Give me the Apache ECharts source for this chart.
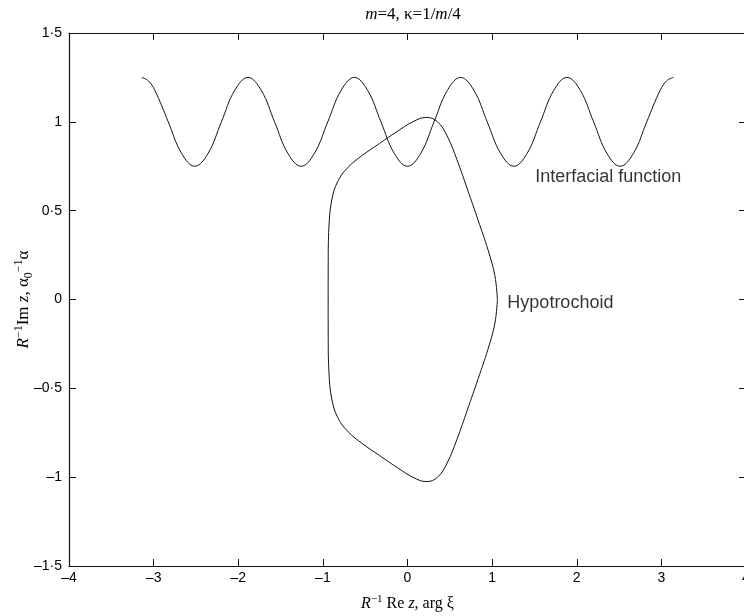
<!DOCTYPE html>
<html>
<head>
<meta charset="utf-8">
<script src="https://cdn.jsdelivr.net/npm/echarts@6/dist/echarts.min.js"></script>
<style>
  html, body { margin: 0; padding: 0; background: #fff; }
  #chart { width: 744px; height: 616px; }
</style>
</head>
<body>
<div id="chart"></div>
<script>
// interfacial function
const interfacialX = [-3.142, -3.063, -2.985, -2.827, -2.670, -2.513, -2.356, -2.199, -2.042,
  -1.885, -1.728, -1.571, -1.414, -1.257, -1.100, -0.942, -0.785,
  -0.628, -0.471, -0.314, -0.157, 0, 0.157, 0.314, 0.471,
  0.628, 0.785, 0.942, 1.100, 1.257, 1.414, 1.571, 1.728,
  1.885, 2.042, 2.199, 2.356, 2.513, 2.670, 2.827, 2.985, 3.063, 3.142];
const interfacialY = [1.25, 1.231, 1.177, 1, 0.823, 0.75, 0.823, 1, 1.177,
  1.25, 1.177, 1, 0.823, 0.75, 0.823, 1, 1.177,
  1.25, 1.177, 1, 0.823, 0.75, 0.823, 1, 1.177,
  1.25, 1.177, 1, 0.823, 0.75, 0.823, 1, 1.177,
  1.25, 1.177, 1, 0.823, 0.75, 0.823, 1, 1.177, 1.231, 1.25];

// hypotrochoid outline
const hypoX = [1.0625, 1.0327, 0.9506, 0.8347, 0.7073, 0.5841, 0.4687, 0.3529, 0.2215,
  0.0625, -0.1257, -0.3311, -0.5313, -0.7015, -0.8247, -0.8973, -0.9288, -0.9369,
  -0.9375, -0.9369, -0.9288, -0.8973, -0.8247, -0.7015, -0.5313, -0.3311, -0.1257,
  0.0625, 0.2215, 0.3529, 0.4687, 0.5841, 0.7073, 0.8347, 0.9506, 1.0327, 1.0625];
const hypoY = [0, 0.1334, 0.2804, 0.4459, 0.6214, 0.7874, 0.9201, 1.0013, 1.0250,
  1.0000, 0.9446, 0.8781, 0.8119, 0.7446, 0.6642, 0.5541, 0.4036, 0.2138,
  0, -0.2138, -0.4036, -0.5541, -0.6642, -0.7446, -0.8119, -0.8781, -0.9446,
  -1.0000, -1.0250, -1.0013, -0.9201, -0.7874, -0.6214, -0.4459, -0.2804, -0.1334, 0];

const curveLabels = [
  { name: 'Interfacial function', value: [1.51, 0.69] },
  { name: 'Hypotrochoid', value: [1.18, -0.02] }
];

function fmtTick(v) {
  let s = String(Math.abs(v)).replace('.', '\u00b7');
  return v < 0 ? '\u2013' + s : s;
}

const sans = '"Liberation Sans", Arial, sans-serif';
const serif = '"Liberation Serif", "Times New Roman", serif';

const chart = echarts.init(document.getElementById('chart'));

const boxAxis = {
  axisLine: { show: true, onZero: false, lineStyle: { color: '#111', width: 1.2 } },
  axisTick: { show: true, inside: true, length: 7, lineStyle: { color: '#111', width: 1 } },
  splitLine: { show: false }
};

chart.setOption({
  animation: false,
  title: {
    text: '{i|m}{n|=4, \u03ba=1/}{i|m}{n|/4}',
    left: 408,
    top: 1,
    textAlign: 'center',
    textStyle: {
      fontWeight: 'normal',
      rich: {
        i: { fontFamily: serif, fontStyle: 'italic', fontWeight: 'normal', fontSize: 17, color: '#000' },
        n: { fontFamily: serif, fontWeight: 'normal', fontSize: 17, color: '#000' }
      }
    }
  },
  grid: { left: 69, top: 33, width: 677, height: 533, containLabel: false, outerBoundsMode: 'none' },
  xAxis: [
    Object.assign({}, boxAxis, {
      type: 'value', min: -4, max: 4, interval: 1, position: 'bottom',
      axisLabel: { formatter: fmtTick, fontFamily: sans, fontSize: 14, color: '#000', margin: 5 },
      name: '{i|R}{sup|\u22121}{n| Re }{i|z}{n|, arg \u03be}',
      nameLocation: 'middle',
      nameGap: 28,
      nameMoveOverlap: false,
      nameTextStyle: {
        rich: {
          i: { fontFamily: serif, fontStyle: 'italic', fontSize: 16, color: '#000', lineHeight: 20 },
          n: { fontFamily: serif, fontSize: 16, color: '#000', lineHeight: 20 },
          sup: { fontFamily: serif, fontSize: 11, color: '#000', verticalAlign: 'top', lineHeight: 14 }
        }
      }
    }),
    Object.assign({}, boxAxis, {
      type: 'value', min: -4, max: 4, interval: 1, position: 'top',
      axisLabel: { show: false }
    })
  ],
  yAxis: [
    Object.assign({}, boxAxis, {
      type: 'value', min: -1.5, max: 1.5, interval: 0.5, position: 'left',
      axisLabel: { formatter: fmtTick, fontFamily: sans, fontSize: 14, color: '#000', margin: 7 },
      name: '{i|R}{sup|\u22121}{n|Im }{i|z}{n|, \u03b1}{sub|0}{sup|\u22121}{n|\u03b1}',
      nameLocation: 'middle',
      nameRotate: 90,
      nameGap: 34,
      nameMoveOverlap: false,
      nameTextStyle: {
        rich: {
          i: { fontFamily: serif, fontStyle: 'italic', fontSize: 17, color: '#000', lineHeight: 22 },
          n: { fontFamily: serif, fontSize: 17, color: '#000', lineHeight: 22 },
          sup: { fontFamily: serif, fontSize: 12, color: '#000', verticalAlign: 'top', lineHeight: 14 },
          sub: { fontFamily: serif, fontSize: 12, color: '#000', verticalAlign: 'bottom', lineHeight: 14 }
        }
      }
    }),
    Object.assign({}, boxAxis, {
      type: 'value', min: -1.5, max: 1.5, interval: 0.5, position: 'right',
      axisLabel: { show: false }
    })
  ],
  series: [
    {
      name: 'Interfacial function',
      type: 'line',
      smooth: 0.4,
      showSymbol: false,
      lineStyle: { color: '#111', width: 1 },
      data: interfacialX.map((x, i) => [x, interfacialY[i]])
    },
    {
      name: 'Hypotrochoid',
      type: 'line',
      smooth: 0.4,
      showSymbol: false,
      lineStyle: { color: '#111', width: 1 },
      data: hypoX.map((x, i) => [x, hypoY[i]])
    },
    {
      type: 'scatter',
      symbolSize: 0,
      silent: true,
      label: {
        show: true,
        position: 'right',
        distance: 0,
        formatter: p => p.name,
        fontFamily: sans,
        fontSize: 18,
        color: '#000'
      },
      data: curveLabels
    }
  ]
});
</script>
</body>
</html>
